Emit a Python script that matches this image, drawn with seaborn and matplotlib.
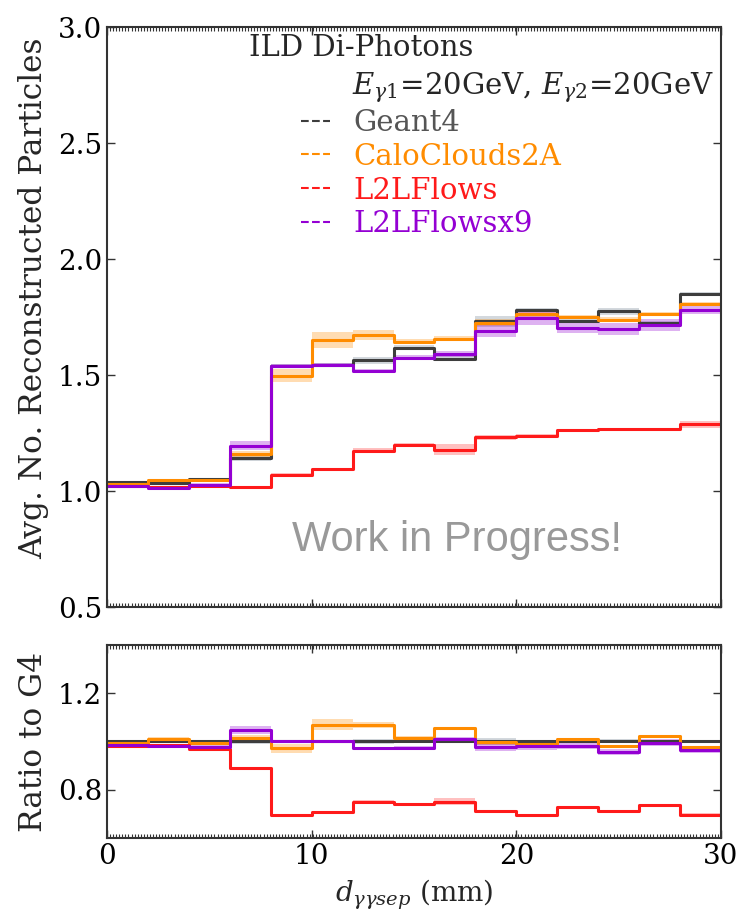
import numpy as np
import pandas as pd
import matplotlib
matplotlib.use("Agg")
import matplotlib.pyplot as plt
import seaborn as sns
from matplotlib.lines import Line2D
from matplotlib.ticker import MultipleLocator

# separation bins (mm)
bin_edges = np.arange(0, 32, 2)
bin_centers = 0.5 * (bin_edges[:-1] + bin_edges[1:])

# mean number of reconstructed particles per bin
geant4 = [1.038, 1.034, 1.051, 1.142, 1.540, 1.543, 1.564, 1.618,
          1.571, 1.732, 1.781, 1.735, 1.775, 1.724, 1.849]
geant4_err = [0.006, 0.006, 0.006, 0.012, 0.008, 0.008, 0.015, 0.010,
              0.010, 0.024, 0.010, 0.010, 0.015, 0.010, 0.010]

calo = [1.030, 1.046, 1.046, 1.160, 1.497, 1.650, 1.672, 1.644,
        1.657, 1.725, 1.761, 1.752, 1.739, 1.764, 1.806]
calo_err = [0.006, 0.006, 0.006, 0.012, 0.028, 0.035, 0.020, 0.010,
            0.010, 0.015, 0.010, 0.008, 0.010, 0.008, 0.010]

l2l = [1.020, 1.017, 1.020, 1.017, 1.070, 1.094, 1.174, 1.198,
       1.179, 1.231, 1.239, 1.261, 1.266, 1.268, 1.288]
l2l_err = [0.004, 0.004, 0.004, 0.004, 0.006, 0.006, 0.010, 0.008,
           0.022, 0.010, 0.006, 0.006, 0.005, 0.005, 0.015]

l2l_x9 = [1.023, 1.014, 1.028, 1.195, 1.540, 1.543, 1.519, 1.575,
          1.590, 1.690, 1.746, 1.704, 1.698, 1.715, 1.782]
l2l_x9_err = [0.006, 0.006, 0.006, 0.020, 0.008, 0.010, 0.008, 0.010,
              0.012, 0.025, 0.030, 0.025, 0.025, 0.025, 0.020]

labels = ["Geant4", "CaloClouds2A", "L2LFlows", "L2LFlowsx9"]
line_colors = ["#3d3d3d", "darkorange", "#ff1a1a", "darkviolet"]
band_colors = ["slategrey", "darkorange", "#ff3030", "darkviolet"]
text_colors = ["#555555", "darkorange", "#ff1a1a", "darkviolet"]

sns.set_style("ticks")
plt.rcParams["font.family"] = ["DejaVu Serif"]
plt.rcParams["mathtext.fontset"] = "dejavuserif"
plt.rcParams["axes.edgecolor"] = "#333333"
plt.rcParams["axes.linewidth"] = 1.5

fig = plt.figure(figsize=(7.41, 9.16), dpi=100)
ax = fig.add_axes([0.1444, 0.3373, 0.8286, 0.6332])
rax = fig.add_axes([0.1444, 0.0852, 0.8286, 0.2107])

series = [geant4, calo, l2l, l2l_x9]
errors = [geant4_err, calo_err, l2l_err, l2l_x9_err]
ref = np.array(geant4)


def step_with_band(axis, vals, errs, lc, bc):
    df = pd.DataFrame({"sep": bin_centers, "w": vals})
    sns.histplot(data=df, x="sep", weights="w", binwidth=2, binrange=(0, 30),
                 element="step", fill=False, color=lc, linewidth=2.2, ax=axis)
    lo = np.append(vals - errs, vals[-1] - errs[-1])
    hi = np.append(vals + errs, vals[-1] + errs[-1])
    axis.fill_between(bin_edges, lo, hi, step="post", color=bc, alpha=0.3, lw=0)


for vals, errs, lc, bc in zip(series, errors, line_colors, band_colors):
    vals = np.array(vals)
    errs = np.array(errs)
    step_with_band(ax, vals, errs, lc, bc)
    step_with_band(rax, vals / ref, errs / ref, lc, bc)

for a in (ax, rax):
    a.set_xlim(0, 30)
    a.xaxis.set_minor_locator(MultipleLocator(0.15))
    a.tick_params(which="both", direction="in", top=True, right=True,
                  labelsize=20, colors="#333333", labelcolor="black")
    a.tick_params(which="major", length=6, width=1)
    a.tick_params(which="minor", length=3, width=0.8)
    a.set_xticks([0, 10, 20, 30])

ax.set_ylim(0.5, 3.0)
ax.set_yticks([0.5, 1.0, 1.5, 2.0, 2.5, 3.0])
ax.tick_params(labelbottom=False)
ax.set_xlabel("")
ax.set_ylabel("Avg. No. Reconstructed Particles", fontsize=22.5)
ax.yaxis.set_label_coords(-0.095, 0.532)

rax.set_ylim(0.6, 1.4)
rax.set_yticks([0.8, 1.2])
rax.set_ylabel("Ratio to G4", fontsize=22.5)
rax.yaxis.set_label_coords(-0.095, 0.5)
rax.set_xlabel(r"$d_{\gamma\gamma sep}$ (mm)", fontsize=20, labelpad=6)

ax.text(0.231, 0.964, "ILD Di-Photons", transform=ax.transAxes,
        fontsize=21, ha="left", va="center")
ax.text(0.399, 0.895, r"$E_{\gamma1}$=20GeV, $E_{\gamma2}$=20GeV",
        transform=ax.transAxes, fontsize=21, ha="left", va="center")

handles = [Line2D([], [], color=c, linestyle="--", linewidth=1.5) for c in line_colors]
leg = ax.legend(handles, labels, loc="upper left", bbox_to_anchor=(0.297, 0.879),
                frameon=False, fontsize=21, handlelength=1.0, handletextpad=0.8,
                labelspacing=0.2, borderaxespad=0)
for t, c in zip(leg.get_texts(), text_colors):
    t.set_color(c)

ax.text(17.1, 0.79, "Work in Progress!", fontsize=30, color="#999999",
        family=["Liberation Sans", "DejaVu Sans"], ha="center", va="center")

fig.savefig("out.png", dpi=100)
